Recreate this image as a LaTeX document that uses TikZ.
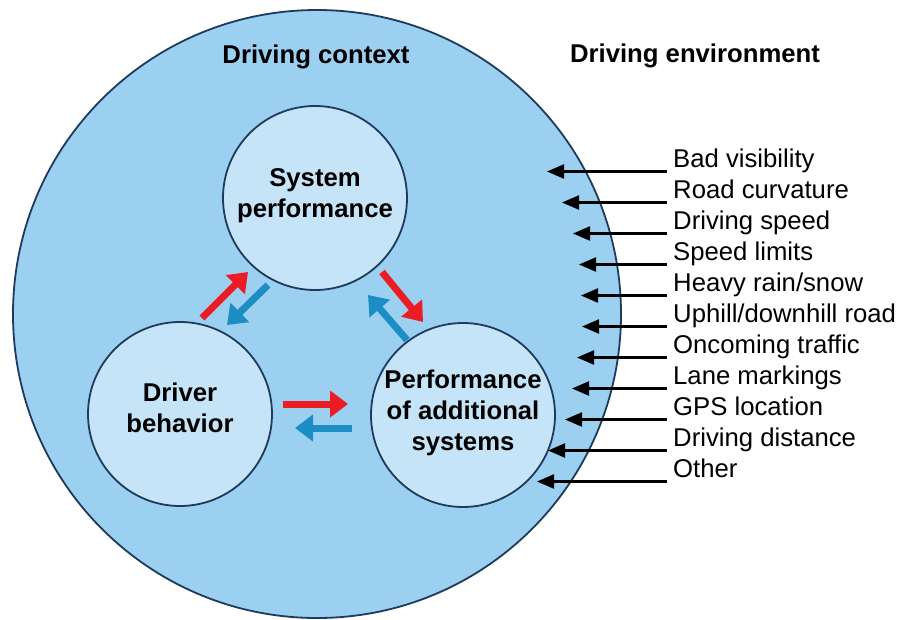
\documentclass[tikz,border=0pt]{standalone}
\usepackage{fontspec}
\setmainfont{Liberation Sans}
\usetikzlibrary{arrows.meta,calc}
\definecolor{ctxfill}{RGB}{155,208,241}
\definecolor{innerfill}{RGB}{198,228,247}
\definecolor{rimcol}{RGB}{30,58,92}
\definecolor{redarr}{RGB}{237,28,36}
\definecolor{bluearr}{RGB}{28,142,196}
\newcommand\diagfs{\fontsize{25.7}{31}\selectfont}
\begin{document}
\begin{tikzpicture}[x=1pt,y=-1pt,
  ctxcircle/.style={circle,draw=rimcol,line width=1.8pt,fill=ctxfill,minimum size=608pt,inner sep=0pt},
  innercircle/.style={circle,draw=rimcol,line width=1.8pt,fill=innerfill,minimum size=184pt,inner sep=0pt},
  ctext/.style={font=\diagfs\bfseries,align=center,inner sep=0pt},
  heading/.style={font=\diagfs\bfseries,anchor=base,inner sep=0pt},
  envtext/.style={font=\diagfs,anchor=base west,inner sep=0pt},
  envarrow/.style={line width=2.2pt,-{Triangle[length=17pt,width=14pt]}},
  redflow/.style={draw=redarr,line width=7pt,-{Triangle[length=18pt,width=26pt]}},
  blueflow/.style={draw=bluearr,line width=7pt,-{Triangle[length=18pt,width=26pt]}}]
\useasboundingbox (0,0) rectangle (899,619);
\fill[white] (0,0) rectangle (899,619);

\node[ctxcircle] (ctx) at (317,314) {};
\node[heading] (hctx) at (316,63) {Driving context};
\node[heading] (henv) at (695,62) {Driving environment};

\node[innercircle] (sys) at (315,198) {};
\node[innercircle] (drv) at (180,414) {};
\node[innercircle] (perf) at (463,415) {};
\node[ctext] (tsys) at ($(sys.center)+(0,-2)$) {System\\performance};
\node[ctext] (tdrv) at ($(drv.center)+(0,-6)$) {Driver\\behavior};
\node[ctext] (tperf) at ($(perf.center)+(0,-2)$) {Performance\\of additional\\systems};

% flow arrows
\coordinate (r1s) at (202,318); \coordinate (r1e) at (248,272);
\coordinate (b1s) at (268,285); \coordinate (b1e) at (227,325);
\coordinate (r2s) at (382,272); \coordinate (r2e) at (423,322);
\coordinate (b2s) at (407,340); \coordinate (b2e) at (368,295);
\coordinate (r3s) at (283,404); \coordinate (r3e) at (348,404);
\coordinate (b3s) at (352,428); \coordinate (b3e) at (295,428);
\draw[redflow] (r1s) -- (r1e);
\draw[blueflow] (b1s) -- (b1e);
\draw[redflow] (r2s) -- (r2e);
\draw[blueflow] (b2s) -- (b2e);
\draw[redflow] (r3s) -- (r3e);
\draw[blueflow] (b3s) -- (b3e);

% environment factors
\node[envtext] (e0) at (673,167) {Bad visibility};
\node[envtext] (e1) at (673,198) {Road curvature};
\node[envtext] (e2) at (673,229) {Driving speed};
\node[envtext] (e3) at (673,260) {Speed limits};
\node[envtext] (e4) at (673,291) {Heavy rain/snow};
\node[envtext] (e5) at (673,322) {Uphill/downhill road};
\node[envtext] (e6) at (673,353) {Oncoming traffic};
\node[envtext] (e7) at (673,384) {Lane markings};
\node[envtext] (e8) at (673,415) {GPS location};
\node[envtext] (e9) at (673,446) {Driving distance};
\node[envtext] (e10) at (673,477) {Other};

\coordinate (p0) at (547,0);
\coordinate (p1) at (562,0);
\coordinate (p2) at (573,0);
\coordinate (p3) at (579,0);
\coordinate (p4) at (581,0);
\coordinate (p5) at (582,0);
\coordinate (p6) at (577,0);
\coordinate (p7) at (572,0);
\coordinate (p8) at (565,0);
\coordinate (p9) at (548,0);
\coordinate (p10) at (537,0);
\foreach \i in {0,...,10}{
  \coordinate (s\i) at ($(e\i.base west)+(-6,4.5)$);
  \draw[envarrow] (s\i) -- (s\i -| p\i);
}
\end{tikzpicture}
\end{document}
